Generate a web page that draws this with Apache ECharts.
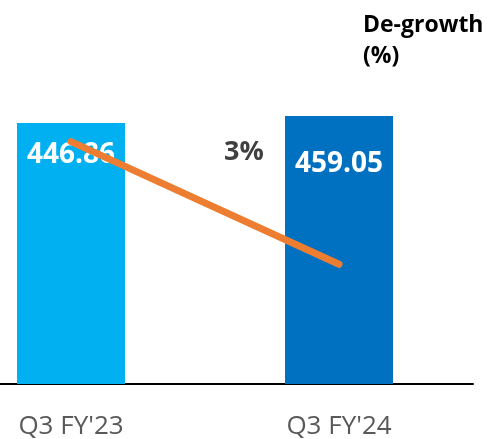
<!DOCTYPE html>
<html>
<head>
<meta charset="utf-8">
<script src="https://cdn.jsdelivr.net/npm/echarts@6/dist/echarts.min.js"></script>
<style>
  html, body { margin: 0; padding: 0; background: #fff; }
  #main { width: 488px; height: 439px; }
</style>
</head>
<body>
<div id="main"></div>
<script>
// data
const quarters = ["Q3 FY'23", "Q3 FY'24"];
const revenue = [446.86, 459.05];
const barColors = ['#00b0f0', '#0070c0'];
const trendLine = [83, 41]; // hidden secondary scale (0-100)
const growthText = '3%';
const labelOffsets = [32, 48]; // value label centre below bar top

const chart = echarts.init(document.getElementById('main'), null, { renderer: 'canvas' });

var option = {
  backgroundColor: '#fff',
  animation: false,
  textStyle: { fontFamily: 'Open Sans' },
  title: {
    text: 'De-growth\n(%)',
    left: 358,
    top: 5,
    textStyle: { fontSize: 23, fontWeight: 'bold', color: '#000', lineHeight: 31, fontFamily: 'Open Sans' }
  },
  grid: { left: -63, right: 15, top: 92, bottom: 55, outerBoundsMode: 'none', containLabel: false },
  xAxis: {
    type: 'category',
    data: quarters,
    axisLine: { lineStyle: { color: '#000', width: 2 } },
    axisTick: { show: false },
    axisLabel: { color: '#595959', fontSize: 26, margin: 30, fontFamily: 'Open Sans' }
  },
  yAxis: [
    { type: 'value', min: 0, max: 500, show: false },
    { type: 'value', min: 0, max: 100, show: false }
  ],
  series: [
    {
      type: 'bar',
      barWidth: 108,
      data: revenue.map((v, i) => ({
        value: v,
        itemStyle: { color: barColors[i] },
        label: {
          show: true,
          position: ['50%', labelOffsets[i]],
          align: 'center',
          verticalAlign: 'middle',
          color: '#fff',
          fontSize: 28,
          fontWeight: 'bold',
          fontFamily: 'Open Sans',
          formatter: p => p.value.toFixed(2)
        }
      }))
    },
    {
      type: 'line',
      yAxisIndex: 1,
      data: trendLine,
      symbol: 'none',
      lineStyle: { color: '#ed7d31', width: 7, cap: 'round' },
      z: 5
    }
  ],
  graphic: [{
    type: 'text',
    left: 224,
    top: 139,
    style: { text: growthText, fontSize: 27, fontWeight: 'bold', fill: '#404040', fontFamily: 'Open Sans' }
  }]
};

chart.setOption(option);
</script>
</body>
</html>
